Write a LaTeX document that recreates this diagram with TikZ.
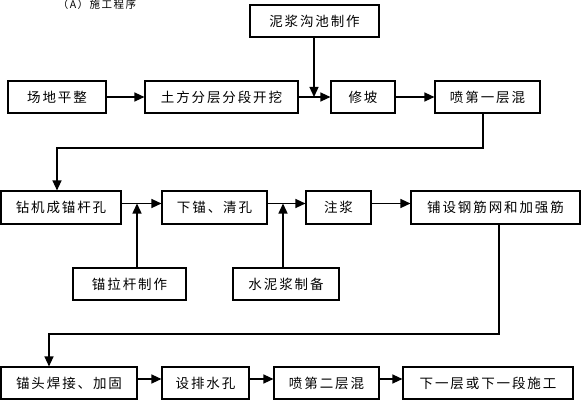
\documentclass[tikz,border=0pt]{standalone}
\usepackage{fontspec}
\newfontfamily\cjk{Noto Sans CJK SC}[LetterSpace=14]
\usetikzlibrary{arrows.meta}
\begin{document}
\begin{tikzpicture}[x=1pt,y=-1pt,
  box/.style={draw,line width=1.1pt,inner sep=0pt,minimum height=32pt,font=\cjk\fontsize{13.5}{14}\selectfont},
  arr/.style={line width=1.3pt,-{Triangle[length=10pt,width=9pt]}},
  up/.style={yshift=4pt}]
\useasboundingbox (0,0) rectangle (581,401);
\node[font=\cjk\fontsize{10.5}{11}\selectfont] (title) at (97,5) {（A）施工程序};
\node[box,minimum width=98pt] (b1) at (57,97) {场地平整};
\node[box,minimum width=153pt] (b2) at (221.5,97) {土方分层分段开挖};
\node[box,minimum width=129pt] (mud) at (314.5,21) {泥浆沟池制作};
\node[box,minimum width=64pt] (b3) at (363,97) {修坡};
\node[box,minimum width=105pt] (b4) at (487.5,97) {喷第一层混};
\node[box,minimum width=120pt,minimum height=33pt] (c1) at (61,207.5) {钻机成锚杆孔};
\node[box,minimum width=105pt,minimum height=33pt] (c2) at (214.5,207.5) {下锚、清孔};
\node[box,minimum width=113pt] (rod) at (129.5,284) {锚拉杆制作};
\node[box,minimum width=106pt] (cem) at (286,284) {水泥浆制备};
\node[box,minimum width=65pt,minimum height=33pt] (c3) at (338.5,207.5) {注浆};
\node[box,minimum width=169pt,minimum height=33pt] (c4) at (495.5,207.5) {铺设钢筋网和加强筋};
\node[box,minimum width=136pt] (d1) at (69,383) {锚头焊接、加固};
\node[box,minimum width=87pt] (d2) at (205.5,383) {设排水孔};
\node[box,minimum width=105pt] (d3) at (326.5,383) {喷第二层混};
\node[box,minimum width=170pt] (d4) at (488,383) {下一层或下一段施工};
\coordinate (j1) at (314,97);
\coordinate (j2) at (137,203.5);
\coordinate (j3) at (283,203.5);
\coordinate (k1) at (483,148);
\coordinate (k2) at (57,148);
\coordinate (k3) at (499,334);
\coordinate (k4) at (49,334);
\draw[arr] (b1) -- (b2);
\draw[arr] (b2) -- (b3);
\draw[arr] (mud.south -| j1) -- (j1);
\draw[arr] (b3) -- (b4);
\draw[arr] (b4.south -| k1) -- (k1) -- (k2) -- (k2 |- c1.north);
\draw[arr] ([up]c1.east) -- ([up]c2.west);
\draw[arr] (rod.north -| j2) -- (j2);
\draw[arr] ([up]c2.east) -- ([up]c3.west);
\draw[arr] (cem.north -| j3) -- (j3);
\draw[arr] ([up]c3.east) -- ([up]c4.west);
\draw[arr] (c4.south -| k3) -- (k3) -- (k4) -- (k4 |- d1.north);
\draw[arr] ([up]d1.east) -- ([up]d2.west);
\draw[arr] ([up]d2.east) -- ([up]d3.west);
\draw[arr] ([up]d3.east) -- ([up]d4.west);
\end{tikzpicture}
\end{document}
